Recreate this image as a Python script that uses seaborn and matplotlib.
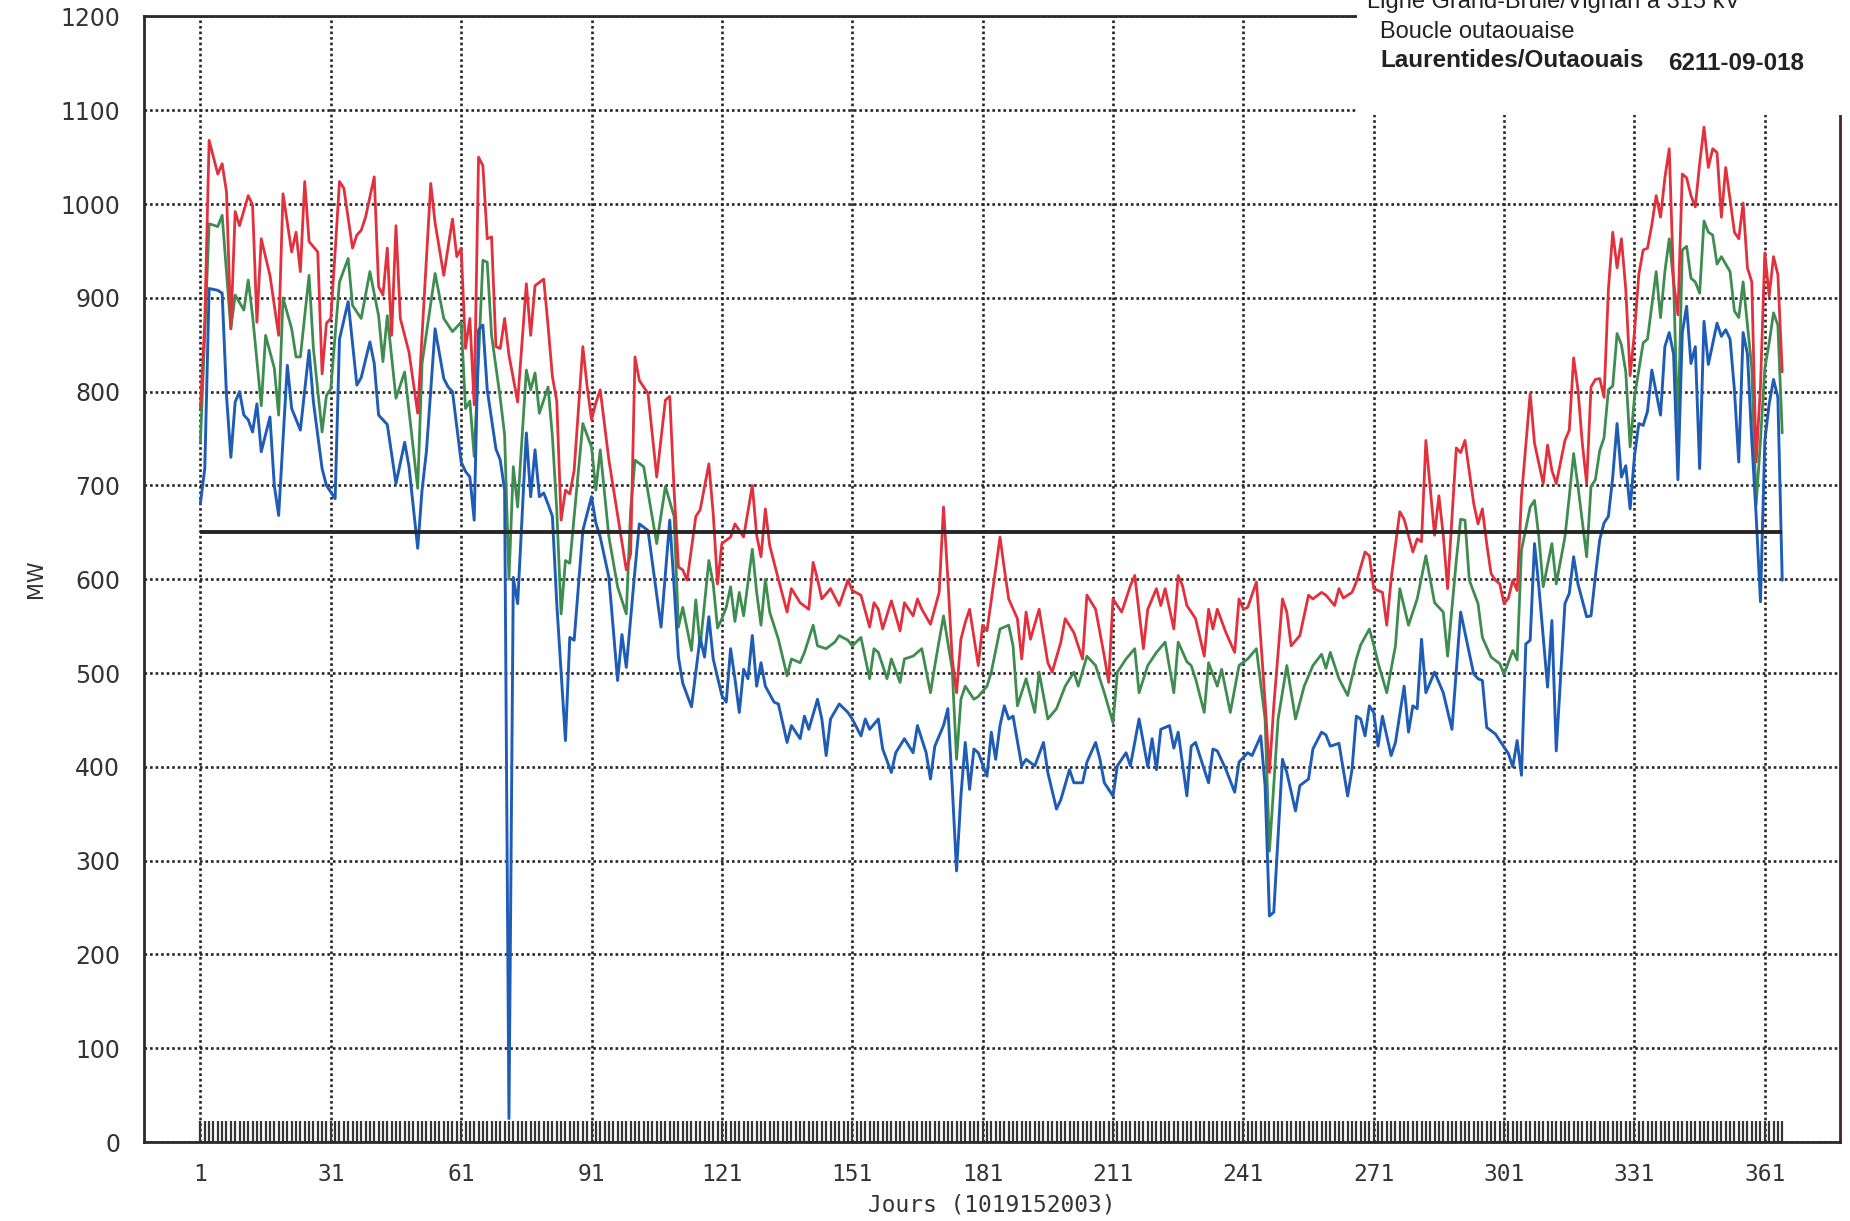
import numpy as np
import pandas as pd
import matplotlib
matplotlib.use("Agg")
import matplotlib.pyplot as plt
from matplotlib.patches import Rectangle
from matplotlib.ticker import MultipleLocator
import seaborn as sns

# ---------------- data ----------------
red_days = [1,2,3,5,6,7,8,9,10,12,13,14,15,17,19,20,22,23,24,25,26,28,29,30,31,32,33,34,36,37,38,39,41,42,43,44,45,46,47,49,
            51,52,54,55,57,59,60,61,62,63,64,65,66,67,68,69,70,71,72,74,75,76,77,78,80,81,82,83,84,85,86,87,89,90,91,92,93,95,99,100,
            101,102,104,106,108,109,110,111,112,113,115,116,118,119,120,121,123,124,126,128,129,130,131,132,134,136,137,139,141,142,143,144,146,148,150,
            151,153,155,156,157,158,160,162,163,165,166,167,169,171,172,173,174,175,176,177,178,180,181,182,184,185,186,187,189,190,191,192,194,196,197,199,200,
            202,204,205,207,209,210,211,213,215,216,218,219,221,222,223,225,226,227,228,230,232,233,234,235,237,239,240,241,242,244,245,246,247,248,250,
            251,252,254,256,257,259,260,262,263,264,266,267,269,270,271,273,274,275,277,278,280,281,282,283,285,286,287,288,290,291,292,294,295,296,297,298,299,300,
            301,302,303,304,305,307,308,310,311,312,313,315,316,317,318,319,320,321,322,323,324,325,326,327,328,329,330,331,332,333,334,335,336,337,338,339,340,
            341,342,343,344,345,346,347,348,349,350,351,352,353,354,355,356,357,358,359,360,361,362,363,364,365]
red_mw = [782,874,1068,1032,1043,1013,867,992,977,1009,999,874,963,924,860,1011,949,970,928,1024,960,949,819,873,878,949,1024,1017,953,967,972,986,1029,912,903,953,860,977,878,842,
          777,860,1022,980,924,984,944,953,846,878,786,1050,1041,963,965,848,846,878,839,789,852,915,860,913,920,870,816,790,663,695,691,716,848,805,770,788,802,727,610,627,
          837,812,798,709,791,795,695,613,610,599,667,674,723,670,595,638,645,659,645,700,647,624,675,636,600,565,590,575,568,618,600,579,590,572,599,
          588,583,549,575,568,547,577,545,575,561,579,568,552,586,677,600,515,479,536,554,568,508,551,545,611,645,611,579,558,515,565,536,568,511,501,533,558,
          543,515,583,568,518,490,579,565,593,604,526,568,590,572,590,547,604,593,572,558,518,568,547,568,543,522,579,568,570,597,536,469,394,465,579,
          565,529,540,583,579,586,583,572,590,580,586,597,629,625,590,586,551,600,672,664,629,643,640,748,647,689,647,590,740,735,748,681,659,675,638,606,599,595,
          574,580,599,588,688,798,745,702,743,716,702,748,759,836,802,745,702,805,813,814,794,909,970,932,963,909,817,863,925,951,953,978,1009,986,1028,1059,917,
          882,1032,1028,1009,997,1043,1082,1039,1059,1055,986,1039,1005,970,963,1001,932,917,725,806,948,902,944,925,821]

green_days = [1,3,5,6,7,8,9,11,12,13,15,16,18,19,20,22,23,24,26,27,29,30,31,33,35,36,38,40,42,43,44,46,48,
              51,52,55,57,59,61,62,63,64,66,67,68,70,71,72,73,74,76,77,78,79,81,82,83,84,85,86,89,91,92,93,95,97,99,100,
              101,103,106,108,110,111,112,114,115,116,118,119,120,121,122,123,124,125,126,128,129,130,131,132,134,136,137,139,140,142,143,145,147,148,150,
              151,153,155,156,157,159,160,162,163,165,167,169,170,172,174,175,176,177,179,180,182,183,185,187,188,189,191,193,194,196,198,200,
              202,203,205,207,209,211,212,214,216,217,219,221,223,225,226,228,229,230,232,233,235,236,238,240,242,244,246,247,249,
              251,253,255,257,259,260,261,263,265,267,268,270,271,272,274,276,277,279,281,283,285,287,288,290,291,292,293,295,296,298,300,
              301,303,304,305,307,308,309,310,312,313,315,316,317,318,320,321,322,323,324,325,326,327,328,329,330,331,333,334,336,337,338,339,340,
              341,342,343,344,345,346,347,348,349,350,351,353,354,355,356,357,358,359,360,361,362,363,364,365]
green_mw = [746,979,976,988,928,867,903,887,919,881,785,860,825,775,900,867,837,837,924,846,757,796,803,917,942,892,878,928,881,832,881,793,821,
            697,830,926,878,864,874,782,790,731,940,938,860,793,754,600,720,677,823,802,820,777,805,752,674,563,620,617,766,741,695,738,645,592,563,674,
            727,720,638,699,667,549,570,524,578,528,620,595,548,558,570,592,555,586,561,632,586,551,600,565,536,497,515,511,522,551,529,526,533,540,535,
            529,538,494,526,522,494,515,490,515,518,526,479,508,561,504,408,472,486,472,475,486,501,547,551,529,465,494,458,501,451,462,486,
            501,486,518,508,479,447,501,515,526,479,508,522,533,479,533,512,508,494,458,511,486,504,458,508,515,526,451,310,451,
            508,451,486,508,520,505,522,494,476,515,530,547,530,511,479,529,590,551,579,625,575,565,518,620,664,663,599,574,538,517,510,
            499,524,514,631,677,684,645,592,638,595,645,688,734,699,624,699,706,737,751,802,806,862,850,821,741,794,852,856,928,879,928,963,917,
            756,951,955,921,917,905,982,970,967,936,944,928,886,879,917,871,825,679,748,825,852,884,871,756]

blue_days = [1,2,3,5,6,7,8,9,10,11,12,13,14,15,17,18,19,21,22,24,26,27,29,30,32,33,35,37,38,40,41,42,44,46,48,49,
             51,52,53,55,57,58,59,61,62,63,64,65,66,67,69,70,71,72,73,74,76,77,78,79,80,81,82,83,85,86,87,89,91,92,93,95,97,98,99,
             101,102,104,107,109,110,111,112,114,116,117,118,119,121,122,123,124,125,126,127,128,129,130,131,133,134,136,137,139,140,141,143,144,145,146,148,150,
             151,153,154,155,157,158,160,161,163,165,166,168,169,170,172,173,174,175,176,177,178,179,180,182,183,184,185,186,187,188,190,191,193,195,196,198,199,
             201,202,204,205,207,208,209,211,212,214,215,217,219,220,221,222,224,225,226,228,229,230,232,233,234,235,237,239,240,242,243,245,246,247,248,250,
             251,253,254,256,257,259,260,261,263,265,266,267,268,269,270,271,272,273,275,276,278,279,280,281,282,283,285,287,289,291,293,294,295,296,297,299,
             301,302,303,304,305,306,307,308,309,311,312,313,315,316,317,318,320,321,322,323,324,325,326,327,328,329,330,331,332,333,334,335,337,338,339,340,
             341,342,343,344,345,346,347,348,350,351,352,353,354,355,356,357,358,359,360,361,362,363,364,365]
blue_mw = [681,718,910,908,905,796,730,789,800,775,770,757,787,736,773,700,668,828,782,759,844,789,718,700,686,856,896,807,815,853,830,775,765,702,746,720,
           633,695,736,867,814,805,800,725,715,709,663,866,871,802,739,727,695,25,602,574,756,688,738,688,692,680,667,574,428,538,535,652,688,660,645,602,492,541,506,
           610,659,652,549,663,592,517,489,464,538,517,560,515,476,469,526,494,458,504,494,540,486,511,486,469,467,426,444,430,454,440,472,451,412,451,467,458,
           451,433,451,440,451,419,394,415,430,415,444,415,387,422,444,462,380,289,369,426,376,419,415,390,437,408,444,465,451,454,401,408,401,426,394,355,365,
           397,383,383,405,426,408,383,369,401,415,401,451,400,430,397,440,444,420,437,369,422,426,397,383,419,417,397,373,405,415,412,433,380,241,245,408,
           394,353,380,387,419,437,434,422,425,369,397,454,451,433,465,458,422,454,412,426,486,437,465,462,536,479,501,479,440,565,521,499,494,492,442,435,
           421,414,400,428,391,531,535,638,592,485,556,417,574,585,624,595,560,561,603,642,660,667,709,766,709,721,675,731,766,764,779,823,775,848,863,840,
           706,863,891,830,848,718,875,829,873,859,866,856,802,725,863,840,748,668,576,748,787,813,794,599]

threshold_mw = 650
threshold_span = [1, 365]
band_days = list(range(1, 366))
band_top = 22
x_ticks = list(range(1, 362, 30))
y_ticks = list(range(0, 1201, 100))

title_lines = ["Ligne Grand-Brûlé/Vignan à 315 kV", "Boucle outaouaise"]
title_bold = "Laurentides/Outaouais"
doc_number = "6211-09-018"
x_label = "Jours (1019152003)"
y_label = "MW"

# ---------------- figure ----------------
sns.set_theme(style="white")
plt.rcParams['font.family'] = ['DejaVu Sans']

fig = plt.figure(figsize=(18.5, 12.21), dpi=100)
ax = fig.add_axes([0.0778, 0.0647, 0.9168, 0.9218])

RED = "#e2303c"
GREEN = "#3f8c50"
BLUE = "#1f5cb6"
DOT = "#262626"

df_r = pd.DataFrame({"day": red_days, "mw": red_mw})
df_g = pd.DataFrame({"day": green_days, "mw": green_mw})
df_b = pd.DataFrame({"day": blue_days, "mw": blue_mw})

sns.lineplot(data=df_g, x="day", y="mw", color=GREEN, lw=2.0, ax=ax, zorder=3)
sns.lineplot(data=df_r, x="day", y="mw", color=RED, lw=2.0, ax=ax, zorder=3)
sns.lineplot(data=df_b, x="day", y="mw", color=BLUE, lw=2.1, ax=ax, zorder=3)

ax.hlines(threshold_mw, threshold_span[0], threshold_span[1], color="#262626", lw=2.8, zorder=4)
ax.vlines(band_days, 0, band_top, colors="#353535", lw=1.6, zorder=2)

ax.set_xlim(-12, 378.3)
ax.set_ylim(0, 1200)
ax.set_xticks(x_ticks)
ax.set_yticks(y_ticks)
ax.yaxis.set_minor_locator(MultipleLocator(50))
ax.grid(True, which="major", linestyle=(0, (1, 1.1)), color=DOT, lw=1.9, zorder=1)
ax.set_axisbelow(True)

ax.tick_params(axis="y", which="both", direction="in", length=18.5, width=1.8,
               color="#333333", pad=17, labelsize=17, labelcolor="#333333", right=False)
ax.tick_params(axis="x", which="both", length=0, pad=15, labelsize=16.5, labelcolor="#333333")
for lab in ax.get_xticklabels():
    lab.set_family("DejaVu Sans Mono")

for side in ["left", "bottom", "top"]:
    ax.spines[side].set_visible(True)
    ax.spines[side].set_color("#2a2a2a")
    ax.spines[side].set_linewidth(2.0)
ax.spines["right"].set_visible(True)
ax.spines["right"].set_color("#4a2034")
ax.spines["right"].set_linewidth(2.0)

ax.set_xlabel(x_label, fontsize=16.5, family="DejaVu Sans Mono", color="#333333")
ax.xaxis.set_label_coords(0.5, -0.046)
ax.set_ylabel(y_label, fontsize=15, color="#333333")
ax.yaxis.set_label_coords(-0.058, 0.5)

# white header box covering the top-right of the frame
fig.add_artist(Rectangle((0.7335, 0.906), 0.3, 0.1, transform=fig.transFigure,
                         facecolor="white", edgecolor="none", zorder=1))

fig.text(0.739, 0.9935, title_lines[0], family="Liberation Sans", fontsize=17,
         va="baseline", ha="left", color="#222222", zorder=2)
fig.text(0.746, 0.969, title_lines[1], family="Liberation Sans", fontsize=17,
         va="baseline", ha="left", color="#222222", zorder=2)
fig.text(0.746, 0.945, title_bold, family="Liberation Sans", fontsize=17.5, fontweight="bold",
         va="baseline", ha="left", color="#222222", zorder=2)
fig.text(0.9016, 0.943, doc_number, family="Liberation Sans", fontsize=17.5, fontweight="bold",
         va="baseline", ha="left", color="#222222", zorder=2)

fig.savefig("out.png", dpi=100, facecolor="white")
